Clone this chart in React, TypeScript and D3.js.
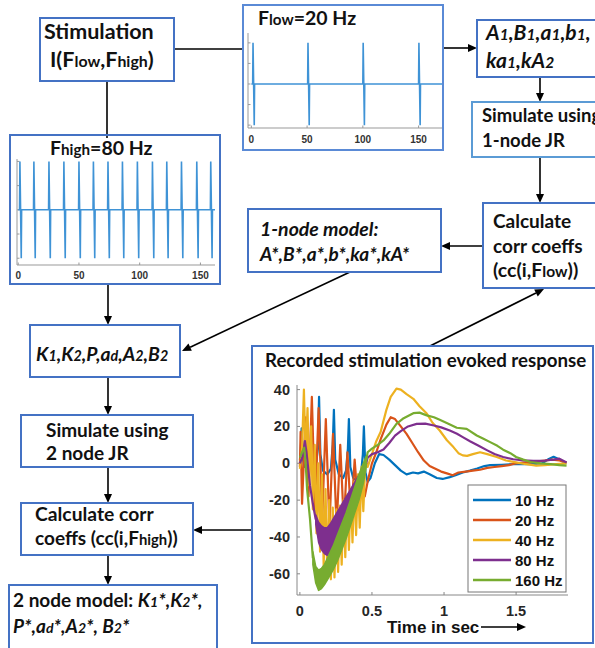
import React from 'react';
import * as d3 from 'd3';

// ---------- stimulus pulse trains ----------
const flowTicks = [0, 50, 100, 150];
const flowSpikes = [1.2, 50.5, 100, 150];
const highTicks = [0, 50, 100, 150];
const highSpikes = [1.1, 12.6, 25, 37.3, 49.7, 61.6, 73.6, 85.5, 97.8, 110.2, 122, 134.1, 146.7, 158.2];
const pulseOffsets = [0, 0.3, 1.4, 1.7];
const pulseAmps = [0, 1, -1, 0];
const stimYTicks = [-1, -0.5, 0, 0.5, 1];

// ---------- recorded evoked response ----------
const legendLabels = ['10 Hz', '20 Hz', '40 Hz', '80 Hz', '160 Hz'];
const seriesColors = ['#0072BD', '#D95319', '#EDB120', '#7E2F8E', '#77AC30'];
const respYTicks = [-60, -40, -20, 0, 20, 40];
const respXTicks = [0, 0.5, 1, 1.5];
const respXTickLabels = ['0', '0.5', '1', '1.5'];

const resp10: [number, number][] = [
  [0, 2], [0.005, 4], [0.012, 19], [0.02, 3], [0.03, -2], [0.06, 0], [0.09, -3], [0.11, -2], [0.125, 8], [0.133, 36],
  [0.142, 5], [0.16, -4], [0.19, -6], [0.215, -3], [0.228, 10], [0.236, 29], [0.245, 2], [0.27, -6], [0.3, -8],
  [0.32, -4], [0.333, 8], [0.34, 24], [0.35, -2], [0.37, -8], [0.4, -10], [0.425, -5], [0.437, 5], [0.444, 20],
  [0.455, -5], [0.47, -10], [0.49, -8], [0.52, 0], [0.55, 5], [0.58, 4.5], [0.62, 2], [0.66, -1], [0.7, -4],
  [0.74, -6], [0.785, -5], [0.82, -5.5], [0.86, -4.5], [0.9, -6], [0.95, -8], [0.99, -8.5], [1.04, -7.5],
  [1.08, -6.5], [1.13, -5], [1.18, -4], [1.23, -2.8], [1.28, -1.5], [1.32, -1], [1.4, -0.8], [1.5, -0.4],
  [1.6, -0.5], [1.68, 0], [1.72, 2], [1.76, 3.5], [1.79, 2.5], [1.82, 1], [1.85, 0.3],
];
const resp20: [number, number][] = [
  [0, -2], [0.005, 17], [0.015, -22], [0.04, 25], [0.06, -18], [0.083, 36], [0.105, -25], [0.13, 30], [0.155, -30],
  [0.18, 24], [0.205, -35], [0.23, 16], [0.255, -35], [0.28, 10], [0.305, -33], [0.33, 6], [0.355, -30], [0.38, 2],
  [0.405, -25], [0.43, -3], [0.45, -18], [0.47, -10], [0.5, 0], [0.53, 6], [0.56, 13], [0.6, 21], [0.63, 25],
  [0.66, 24], [0.7, 20], [0.74, 16], [0.78, 11], [0.82, 6], [0.86, 1.5], [0.9, -1.5], [0.94, -3], [0.98, -4.5],
  [1.02, -5.5], [1.06, -6.5], [1.1, -5], [1.15, -4.5], [1.2, -4], [1.25, -3.5], [1.3, -2.5], [1.35, -2], [1.4, -1.5],
  [1.45, -1], [1.5, 0], [1.55, 0.4], [1.6, 0.5], [1.65, 1], [1.7, 1.5], [1.75, 2], [1.8, 1.5], [1.85, 0.4],
];
const resp40: [number, number][] = [
  [0, -3], [0.015, 8], [0.028, 40], [0.04, 2], [0.053, 30], [0.065, -12], [0.078, 20], [0.09, -25], [0.103, 10],
  [0.115, -38], [0.128, 0], [0.14, -48], [0.153, -6], [0.165, -56], [0.178, -14], [0.19, -61], [0.203, -20],
  [0.215, -63], [0.228, -24], [0.24, -62], [0.253, -25], [0.265, -59], [0.278, -23], [0.29, -55], [0.303, -20],
  [0.315, -51], [0.328, -17], [0.34, -47], [0.353, -14], [0.365, -43], [0.378, -10], [0.39, -39], [0.403, -6],
  [0.415, -35], [0.428, -2], [0.44, -26], [0.455, 2], [0.47, -2], [0.5, 5], [0.53, 12], [0.56, 17], [0.6, 29],
  [0.63, 36], [0.67, 40.5], [0.7, 40], [0.74, 37.5], [0.787, 35], [0.83, 31], [0.88, 27], [0.92, 22], [0.97, 17.8],
  [1.02, 12.5], [1.065, 8.8], [1.1, 5.5], [1.13, 4.3], [1.16, 4], [1.2, 5], [1.25, 6], [1.3, 5], [1.366, 3.4],
  [1.43, 1.5], [1.5, 0.5], [1.57, -0.5], [1.64, -1.3], [1.7, -1], [1.78, -0.5], [1.85, 0],
];
const resp80Start: [number, number][] = [
  [0, 0], [0.02, 4], [0.035, 12], [0.05, 3], [0.07, -12], [0.09, -22], [0.11, -30.5],
];
const band80T = [0.11, 0.13, 0.15, 0.17, 0.19, 0.21, 0.24, 0.27, 0.3, 0.33, 0.36, 0.39, 0.42, 0.45];
const band80Hi = [-28, -32, -34, -35, -35, -33, -29, -25, -21, -17, -13, -9, -5, 0];
const band80Lo = [-33, -43, -47, -49, -50, -48, -44, -40, -36, -32, -27, -21, -15, -6];
const resp80End: [number, number][] = [
  [0.45, -3], [0.47, 3], [0.5, 5], [0.54, 6], [0.58, 7.5], [0.62, 11], [0.66, 15], [0.7, 17.5], [0.75, 20],
  [0.81, 21.4], [0.87, 21.5], [0.93, 20.5], [0.98, 19.5], [1.04, 17.8], [1.09, 16], [1.13, 14.2], [1.18, 12],
  [1.24, 9.5], [1.3, 7], [1.35, 5], [1.41, 3.4], [1.48, 2.2], [1.55, 1.6], [1.62, 1.3], [1.7, 1.5], [1.76, 2],
  [1.8, 2.5], [1.85, 0.4],
];
const resp160Start: [number, number][] = [
  [0, 3], [0.015, 6], [0.03, 8.5], [0.04, 0], [0.05, -14], [0.07, -30], [0.09, -51.5],
];
const band160T = [0.09, 0.11, 0.13, 0.15, 0.17, 0.2, 0.23, 0.26, 0.29, 0.32, 0.35, 0.38, 0.41, 0.44, 0.46];
const band160Hi = [-48, -56, -58, -57, -55, -50, -45, -39, -33, -27, -20, -13, -6, 0, 4];
const band160Lo = [-55, -65, -69, -68, -66, -62, -58, -53, -47, -41, -34, -27, -20, -11, -2];
const resp160End: [number, number][] = [
  [0.46, 1], [0.47, 6], [0.5, 8], [0.54, 10], [0.58, 12.4], [0.62, 16], [0.67, 21.4], [0.72, 24.5], [0.787, 27.2],
  [0.83, 27.5], [0.88, 26], [0.93, 25], [0.97, 23.6], [1.03, 21.5], [1.088, 19.3], [1.157, 18.7], [1.227, 15.1],
  [1.27, 13.5], [1.32, 11.5], [1.37, 9.5], [1.41, 7.4], [1.46, 5.5], [1.5, 3.4], [1.55, 2], [1.6, 0.7], [1.67, 0],
  [1.74, -0.5], [1.8, -1], [1.85, -1.3],
];

// ---------- styling ----------
const FONT = "Lato, 'Open Sans', 'Liberation Sans', sans-serif";
const AXFONT = "'Liberation Sans', Arial, sans-serif";
const BOX = '#4472C4';
const STIM = '#3F93D6';

type Seg = { s: string; it: boolean; sm: boolean };
function parse(str: string): Seg[] {
  const segs: Seg[] = [];
  let it = false, sm = false, buf = '';
  const flush = () => { if (buf) segs.push({ s: buf, it, sm }); buf = ''; };
  for (const ch of str) {
    if (ch === '|') { flush(); it = !it; }
    else if (ch === '{') { flush(); sm = true; }
    else if (ch === '}') { flush(); sm = false; }
    else buf += ch;
  }
  flush();
  return segs;
}

function Rich({ x, y, str, size, sub = 0.74 }: { x: number; y: number; str: string; size: number; sub?: number }) {
  return (
    <text x={x} y={y} fontFamily={FONT} fontWeight="bold" fontSize={size} fill="#111" style={{ whiteSpace: 'pre' }}>
      {parse(str).map((g, i) => (
        <tspan key={i} fontSize={g.sm ? size * sub : size} fontStyle={g.it ? 'italic' : 'normal'}>{g.s}</tspan>
      ))}
    </text>
  );
}

function Arrow({ x1, y1, x2, y2, head = true }: { x1: number; y1: number; x2: number; y2: number; head?: boolean }) {
  const a = Math.atan2(y2 - y1, x2 - x1);
  const L = 9, W = 4;
  const bx = x2 - L * Math.cos(a), by = y2 - L * Math.sin(a);
  const p1 = [bx + W * Math.sin(a), by - W * Math.cos(a)];
  const p2 = [bx - W * Math.sin(a), by + W * Math.cos(a)];
  return (
    <g>
      <line x1={x1} y1={y1} x2={head ? bx : x2} y2={head ? by : y2} stroke="#000" strokeWidth={1.6} />
      {head && <polygon points={`${x2},${y2} ${p1[0]},${p1[1]} ${p2[0]},${p2[1]}`} fill="#000" />}
    </g>
  );
}

function StimChart({ spikes, ticks, xDom, xRng, yDom, yRng, labelY }: any) {
  const x = d3.scaleLinear().domain(xDom).range(xRng);
  const y = d3.scaleLinear().domain(yDom).range(yRng);
  const pts: [number, number][] = [[0, 0]];
  spikes.forEach((s: number) => pulseOffsets.forEach((o, i) => pts.push([s + o, pulseAmps[i]])));
  pts.push([xDom[1], 0]);
  const line = d3.line<[number, number]>().x(d => x(d[0])).y(d => y(d[1]));
  const x0 = xRng[0], yb = yRng[0];
  return (
    <g>
      <line x1={x0} y1={yRng[1]} x2={x0} y2={yb} stroke="#999" strokeWidth={1} />
      <line x1={x0} y1={yb} x2={xRng[1]} y2={yb} stroke="#999" strokeWidth={1} />
      {stimYTicks.map(v => <line key={v} x1={x0} x2={x0 + 2.5} y1={y(v)} y2={y(v)} stroke="#999" />)}
      {ticks.map((v: number) => <line key={v} x1={x(v)} x2={x(v)} y1={yb} y2={yb - 2.5} stroke="#999" />)}
      <path d={line(pts) || ''} fill="none" stroke={STIM} strokeWidth={1.6} />
      {ticks.map((v: number) => (
        <text key={v} x={x(v)} y={labelY} textAnchor="middle" fontFamily={AXFONT} fontWeight="bold" fontSize={10} fill="#333">{v}</text>
      ))}
    </g>
  );
}

function ResponseChart() {
  const x = d3.scaleLinear().domain([-0.02, 1.86]).range([297, 568]);
  const y = d3.scaleLinear().domain([-71.5, 42.5]).range([595, 385]);
  const line = d3.line<[number, number]>().x(d => x(d[0])).y(d => y(d[1]));
  const area = (t: number[], hi: number[], lo: number[]) =>
    d3.area<number>().x(i => x(t[i])).y0(i => y(lo[i])).y1(i => y(hi[i]))(t.map((_, i) => i)) || '';
  const lw = 2.2;
  return (
    <g>
      <text x={265} y={367} fontFamily={FONT} fontWeight="bold" fontSize={18.7} fill="#111">Recorded stimulation evoked response</text>
      <line x1={297} y1={385} x2={297} y2={595} stroke="#888" />
      <line x1={297} y1={595} x2={568} y2={595} stroke="#888" />
      {respYTicks.map(v => (
        <g key={v}>
          <line x1={297} x2={300} y1={y(v)} y2={y(v)} stroke="#888" />
          <text x={290} y={y(v) + 5} textAnchor="end" fontFamily={AXFONT} fontWeight="bold" fontSize={14.5} fill="#262626">{v}</text>
        </g>
      ))}
      {respXTicks.map((v, i) => (
        <g key={v}>
          <line x1={x(v)} x2={x(v)} y1={595} y2={592} stroke="#888" />
          <text x={x(v)} y={616} textAnchor="middle" fontFamily={AXFONT} fontWeight="bold" fontSize={14.5} fill="#262626">{respXTickLabels[i]}</text>
        </g>
      ))}
      <g fill="none" strokeWidth={lw} strokeLinejoin="round">
        <path d={line(resp10) || ''} stroke={seriesColors[0]} />
        <path d={line(resp20) || ''} stroke={seriesColors[1]} />
        <path d={line(resp40) || ''} stroke={seriesColors[2]} />
        <path d={line(resp80Start) || ''} stroke={seriesColors[3]} />
        <path d={area(band80T, band80Hi, band80Lo)} fill={seriesColors[3]} stroke={seriesColors[3]} strokeWidth={1.5} />
        <path d={line(resp80End) || ''} stroke={seriesColors[3]} />
        <path d={line(resp160Start) || ''} stroke={seriesColors[4]} />
        <path d={area(band160T, band160Hi, band160Lo)} fill={seriesColors[4]} stroke={seriesColors[4]} strokeWidth={1.5} />
        <path d={line(resp160End) || ''} stroke={seriesColors[4]} />
      </g>
      <rect x={468} y={485} width={98} height={107} fill="#fff" stroke="#777" strokeWidth={1} />
      {legendLabels.map((l, i) => (
        <g key={l}>
          <line x1={473} x2={511} y1={500 + i * 20} y2={500 + i * 20} stroke={seriesColors[i]} strokeWidth={2.6} />
          <text x={515} y={505.5 + i * 20} fontFamily={AXFONT} fontWeight="bold" fontSize={15} fill="#111">{l}</text>
        </g>
      ))}
      <text x={387} y={633} fontFamily={AXFONT} fontWeight="bold" fontSize={17} fill="#111">Time in sec</text>
      <Arrow x1={481} y1={627} x2={526} y2={627} />
    </g>
  );
}

export default function App() {
  const boxes = [
    { x: 40, y: 18, w: 134, h: 63, c: BOX },
    { x: 243, y: 5, w: 200, h: 145, c: '#5A8AD6' },
    { x: 477, y: 20, w: 140, h: 57, c: BOX },
    { x: 472, y: 102, w: 140, h: 55, c: '#5B9BD5' },
    { x: 483, y: 203, w: 130, h: 85, c: BOX },
    { x: 10, y: 135, w: 210, h: 149, c: BOX },
    { x: 248, y: 209, w: 193, h: 63, c: BOX },
    { x: 30, y: 325, w: 150, h: 52, c: BOX },
    { x: 21, y: 415, w: 172, h: 52, c: BOX },
    { x: 21, y: 503, w: 172, h: 52, c: BOX },
    { x: 9, y: 585, w: 208, h: 80, c: BOX },
    { x: 252, y: 346, w: 341, h: 297, c: BOX },
  ];
  return (
    <svg width={595} height={648} style={{ position: 'absolute', left: 0, top: 0, background: '#fff' }}>
      <rect width={595} height={648} fill="#fff" />
      {/* connectors */}
      <Arrow x1={174} y1={49} x2={243} y2={49} head={false} />
      <Arrow x1={107} y1={81} x2={107} y2={138} head={false} />
      <Arrow x1={443} y1={48} x2={477} y2={48} />
      <Arrow x1={540} y1={77} x2={540} y2={102} />
      <Arrow x1={540} y1={157} x2={540} y2={203} />
      <Arrow x1={483} y1={246} x2={441} y2={246} />
      <Arrow x1={350} y1={272} x2={182} y2={351} />
      <Arrow x1={430} y1={346} x2={544} y2={289} />
      <Arrow x1={252} y1={530} x2={193} y2={530} />
      <Arrow x1={108} y1={284} x2={108} y2={325} />
      <Arrow x1={108} y1={377} x2={108} y2={415} />
      <Arrow x1={108} y1={467} x2={108} y2={503} />
      <Arrow x1={108} y1={555} x2={108} y2={585} />
      {boxes.map((b, i) => (
        <rect key={i} x={b.x} y={b.y} width={b.w} height={b.h} fill={i === 1 || i === 5 || i === 11 ? 'none' : '#fff'} stroke={b.c} strokeWidth={2} />
      ))}
      <Rich x={44} y={39} str="Stimulation" size={21.5} />
      <Rich x={50} y={67} str="I(F{low},F{high})" size={21.5} />
      <Rich x={258} y={25} str="F{low}=20 Hz" size={19.5} sub={0.78} />
      <Rich x={486} y={40} str="|A{1},B{1},a{1},b{1}," size={21} />
      <Rich x={486} y={68} str="|ka{1},kA{2}" size={21} />
      <Rich x={482} y={122} str="Simulate using" size={18.5} />
      <Rich x={482} y={147} str="1-node JR" size={18.5} />
      <Rich x={493} y={228} str="Calculate" size={19} />
      <Rich x={493} y={253} str="corr coeffs" size={19} />
      <Rich x={493} y={277} str="(cc(i,F{low}))" size={19.5} sub={0.8} />
      <Rich x={260} y={236} str="|1-node model:" size={19.5} />
      <Rich x={260} y={261} str="|A*,B*,a*,b*,ka*,kA*" size={19} />
      <Rich x={50} y={155} str="F{high}=80 Hz" size={19.5} sub={0.78} />
      <Rich x={36} y={361} str="|K{1},K{2},P,a{d},A{2},B{2}" size={19.3} />
      <Rich x={46} y={437} str="Simulate using" size={19} />
      <Rich x={46} y={460} str="2 node JR" size={19} />
      <Rich x={35} y={521} str="Calculate corr" size={19.3} />
      <Rich x={35} y={545} str="coeffs (cc(i,F{high}))" size={19} sub={0.78} />
      <Rich x={13} y={607} str="2 node model: |K{1}*,K{2}*," size={19} />
      <Rich x={13} y={633} str="|P*,a{d}*,A{2}*, B{2}*" size={19} />
      <StimChart spikes={flowSpikes} ticks={flowTicks} xDom={[-3, 171]} xRng={[248, 442]} yDom={[-1.07, 1.24]} yRng={[128, 33]} labelY={143} />
      <StimChart spikes={highSpikes} ticks={highTicks} xDom={[-1, 162]} xRng={[17, 215]} yDom={[-1.14, 1.05]} yRng={[265, 159]} labelY={279} />
      <ResponseChart />
    </svg>
  );
}
